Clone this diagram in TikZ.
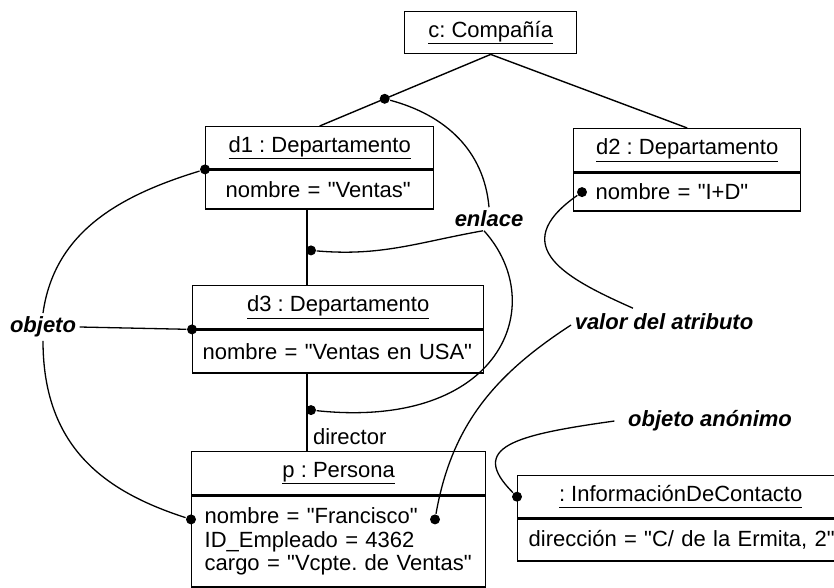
\documentclass[tikz,border=0pt]{standalone}
\usepackage{fontspec}
\setmainfont{Liberation Sans}[Ligatures=TeXOff]
\usetikzlibrary{positioning}
\frenchspacing

\newcommand{\objtitle}[1]{\underline{\vphantom{p}#1}}

\begin{document}
\begin{tikzpicture}[
    x=1pt, y=1pt,
    font=\fontsize{22}{23.5}\selectfont,
    line width=1.4pt,
    every node/.style={align=center},
    objname/.style={
        draw, anchor=north west, inner sep=0pt, minimum height=42pt
    },
    objattr/.style={
        draw, align=left, inner ysep=0pt
    },
    dot/.style={circle, fill, inner sep=0pt, minimum size=10pt},
    note/.style={font=\fontsize{22}{23.5}\selectfont\bfseries\itshape, inner sep=3pt},
    callout/.style={line width=1.3pt}
]
\useasboundingbox (0,0) rectangle (834,-588);

% --------------------------------------------------------------------------
% Object diagram: company, departments, person and contact info.
% --------------------------------------------------------------------------
\node[objname, minimum width=172pt] (comp) at (404,-11) {\objtitle{c: Compañía}};

% Departments.
\node[objname, minimum width=228pt] (d1) at (205,-126) {\objtitle{d1 : Departamento}};
\node[objattr, below=0pt of d1, text width=188pt, inner xsep=20pt, minimum height=39pt] (d1at) {nombre = "Ventas"};

\node[objname, minimum width=227pt, minimum height=43pt] (d2) at (573,-128) {\objtitle{d2 : Departamento}};
\node[objattr, below=0pt of d2, text width=183pt, inner xsep=22pt, minimum height=38pt] (d2at) {nombre = "I+D"};

\node[objname, minimum width=291pt, minimum height=43pt] (d3) at (192,-285) {\objtitle{d3 : Departamento}};
\node[objattr, below=0pt of d3, text width=271pt, inner xsep=10pt, minimum height=43pt] (d3at) {nombre = "Ventas en USA"};

% Person and anonymous contact object.
\node[objname, minimum width=294pt, minimum height=43pt] (pers) at (191,-451) {\objtitle{p : Persona}};
\node[objattr, below=0pt of pers, text width=268pt, inner xsep=13pt, minimum height=91pt] (persat) {nombre = "Francisco"\\ID\_Empleado = 4362\\cargo = "Vcpte. de Ventas"};

\node[objname, minimum width=326pt] (info) at (517,-475) {\objtitle{: InformaciónDeContacto}};
\node[objattr, anchor=north west, text width=330pt, inner xsep=11pt, minimum height=42pt] (infoat) at (info.south west) {dirección = "C/ de la Ermita, 2"};

% Links between objects.
\coordinate (lx) at (307,0);
\draw (comp.south) -- node[dot, pos=0.62] (lkC) {} (d1.north);
\draw (comp.south) -- (d2.north);
\draw (d1at.south -| lx) -- node[dot, pos=0.54, xshift=4pt] (lkA) {} (d3.north -| lx);
\draw (d3at.south -| lx) -- node[dot, pos=0.47, xshift=4pt] (lkB) {}
    node[pos=0.81, right=2pt] (dirl) {director} (pers.north -| lx);

% Marker dots.
\node[dot] (d1dot) at (d1at.north west) {};
\node[dot] (d3dot) at (d3at.north west) {};
\node[dot] (d2dot) at ([xshift=9pt]d2at.west) {};
\node[dot] (pdot) at ([yshift=-24pt]persat.north west) {};
\node[dot] (frdot) at ([shift={(244pt,-24pt)}]persat.north west) {};
\node[dot] (infodot) at (info.west) {};

% Callout labels.
\node[note] (enl) at (489,-219) {enlace};
\node[note] (obj) at (43,-327) {objeto};
\node[note] (val) at (664,-322) {valor del atributo};
\node[note] (anon) at (710,-421) {objeto anónimo};

\draw[callout] (enl.north) to[out=95, in=-15] (lkC);
\draw[callout] ([xshift=-6pt]enl.south) to[out=190, in=-5] (lkA);
\draw[callout] ([xshift=-5pt]enl.south) to[out=-48, in=-6, out distance=100pt, in distance=185pt] (lkB);

\draw[callout] (obj.north) to[out=82, in=197] (d1dot);
\draw[callout] (obj.south) to[out=-90, in=162, out distance=110pt, in distance=80pt] (pdot);
\draw[callout] (obj.east) -- (d3dot);

\draw[callout] (d2dot) to[out=215, in=156, out distance=90pt, in distance=70pt] ([shift={(-31pt,2pt)}]val.north);
\draw[callout] ([yshift=-3pt]val.west) to[out=213, in=80] (frdot);

\draw[callout] ([xshift=-10pt]anon.west) to[out=188, in=135, out distance=100pt, in distance=65pt] (infodot);

\end{tikzpicture}
\end{document}
